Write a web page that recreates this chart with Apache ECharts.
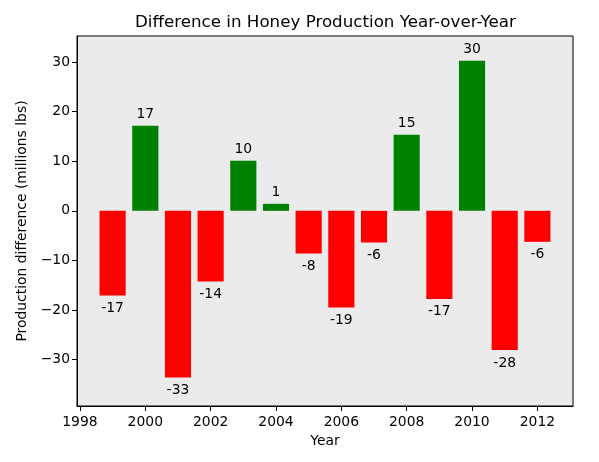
<!DOCTYPE html>
<html>
<head>
<meta charset="utf-8">
<script src="https://cdn.jsdelivr.net/npm/echarts@6/dist/echarts.min.js"></script>
<style>
  html, body { margin: 0; padding: 0; background: #fff; }
  #chart { width: 599px; height: 462px; }
</style>
</head>
<body>
<div id="chart"></div>
<script>
// years and year-over-year difference (millions lbs)
var years = [1999, 2000, 2001, 2002, 2003, 2004, 2005, 2006, 2007, 2008, 2009, 2010, 2011, 2012];
var diffs = [-17.05, 17.15, -33.62, -14.26, 10.09, 1.41, -8.6, -19.5, -6.39, 15.33, -17.75, 30.26, -28.05, -6.25];
var xTicks = [1998, 2000, 2002, 2004, 2006, 2008, 2010, 2012];
var yTicks = [-30, -20, -10, 0, 10, 20, 30];

var xMin = 1997.91, xMax = 2013.09;
var yMin = -39.34, yMax = 35.24;
var gridLeft = 77, gridRight = 26;
var plotW = 599 - gridLeft - gridRight;
var barPx = 0.8 * plotW / (xMax - xMin);

var myChart = echarts.init(document.getElementById('chart'));
var font = 'DejaVu Sans';

var barData = [];
for (var i = 0; i < years.length; i++) {
    var v = diffs[i];
    barData.push({
        value: [years[i], v],
        itemStyle: { color: v >= 0 ? '#008000' : '#ff0000' },
        label: v >= 0 ? { position: 'top', distance: 4 } : { position: 'bottom', distance: 6 }
    });
}

var option = {
    animation: false,
    textStyle: { fontFamily: font },
    title: {
        text: 'Difference in Honey Production Year-over-Year',
        left: 130,
        top: 9,
        textStyle: { fontFamily: font, fontSize: 16.7, fontWeight: 'normal', color: '#000' }
    },
    grid: {
        left: gridLeft, right: gridRight, top: 36, bottom: 56,
        show: true, backgroundColor: '#ebebeb', borderColor: '#000', borderWidth: 1
    },
    xAxis: {
        type: 'value',
        min: xMin, max: xMax,
        name: 'Year',
        nameLocation: 'middle',
        nameGap: 28,
        nameTextStyle: { fontFamily: font, fontSize: 13.9, color: '#000' },
        splitLine: { show: false },
        axisLine: { show: true, onZero: false, lineStyle: { color: '#000', width: 1 } },
        axisTick: { show: true, length: 5, customValues: xTicks, lineStyle: { color: '#000' } },
        axisLabel: {
            customValues: xTicks, margin: 9, color: '#000', fontFamily: font, fontSize: 13.9,
            formatter: function (v) { return String(v); }
        }
    },
    yAxis: {
        type: 'value',
        min: yMin, max: yMax,
        name: 'Production difference (millions lbs)',
        nameLocation: 'middle',
        nameGap: 42,
        nameTextStyle: { fontFamily: font, fontSize: 13.9, color: '#000' },
        splitLine: { show: false },
        axisLine: { show: true, onZero: false, lineStyle: { color: '#000', width: 1 } },
        axisTick: { show: true, length: 5, customValues: yTicks, lineStyle: { color: '#000' } },
        axisLabel: {
            customValues: yTicks, margin: 7, color: '#000', fontFamily: font, fontSize: 13.9,
            formatter: function (v) { return v < 0 ? '\u2212' + Math.abs(v) : String(v); }
        }
    },
    series: [{
        type: 'bar',
        barWidth: barPx,
        data: barData,
        label: {
            show: true,
            color: '#000',
            fontFamily: font,
            fontSize: 13.9,
            formatter: function (p) { return String(Math.trunc(p.value[1])); }
        }
    }]
};

myChart.setOption(option);
</script>
</body>
</html>
